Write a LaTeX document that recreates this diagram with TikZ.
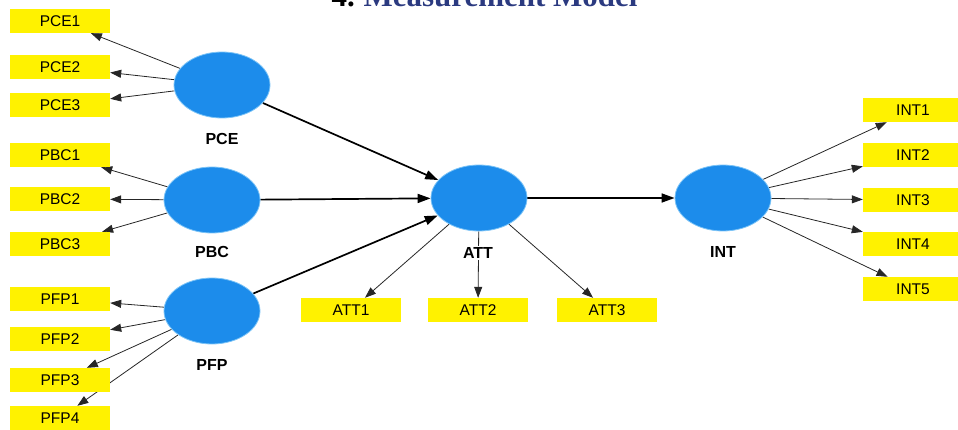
\documentclass[tikz,border=0pt]{standalone}
\usepackage{fontspec}
\setmainfont{Liberation Serif}
\setsansfont{Liberation Sans}
\usetikzlibrary{arrows.meta,shapes.geometric,backgrounds}
\definecolor{lvblue}{HTML}{1C8CEB}
\definecolor{lvrim}{HTML}{7CC4F7}
\definecolor{itemyellow}{HTML}{FFF200}
\definecolor{navy}{HTML}{2B3A80}
\tikzset{
  item/.style={fill=itemyellow,minimum width=100pt,minimum height=24pt,inner sep=0pt,font=\sffamily\fontsize{15.5}{17}\selectfont},
  latent/.style={ellipse,fill=lvblue,draw=lvrim,line width=0.8pt,minimum width=96pt,minimum height=66pt,inner sep=0pt},
  lvname/.style={font=\sffamily\bfseries\fontsize{16}{18}\selectfont,inner sep=1.5pt},
  ind/.style={-{Triangle[length=11pt,width=8pt]},line width=0.8pt,black!85},
  struct/.style={-{Triangle[length=13pt,width=9pt]},line width=1.7pt,black}
}
\begin{document}
\begin{tikzpicture}[x=1pt,y=-1pt]
  \clip (0,0) rectangle (958,430);
  \node[anchor=base west,font=\bfseries\fontsize{31}{33}\selectfont] (num) at (328,7) {4.};
  \node[anchor=base west,font=\bfseries\fontsize{31}{33}\selectfont,text=navy] (title) at (360,7) {Measurement Model};

  \node[latent] (pce) at (222,85) {};
  \node[latent] (pbc) at (212,200) {};
  \node[latent] (pfp) at (212,311) {};
  \node[latent] (att) at (479,198) {};
  \node[latent] (int) at (723,198) {};
  \node[lvname] (pcelab) at (222,139) {PCE};
  \node[lvname] (pbclab) at (212,252) {PBC};
  \node[lvname] (pfplab) at (212,365) {PFP};
  \node[lvname,fill=white] (attlab) at (478,253) {ATT};
  \node[lvname] (intlab) at (723,252) {INT};

  \node[item] (pce1) at (60,21) {PCE1};
  \node[item] (pce2) at (60,67) {PCE2};
  \node[item] (pce3) at (60,105) {PCE3};
  \node[item] (pbc1) at (60,155) {PBC1};
  \node[item] (pbc2) at (60,199) {PBC2};
  \node[item] (pbc3) at (60,244) {PBC3};
  \node[item] (pfp1) at (60,299) {PFP1};
  \node[item] (pfp2) at (60,339) {PFP2};
  \node[item] (pfp3) at (60,380) {PFP3};
  \node[item] (pfp4) at (60,418) {PFP4};
  \node[item] (att1) at (351,310) {ATT1};
  \node[item] (att2) at (478,310) {ATT2};
  \node[item] (att3) at (607,310) {ATT3};
  \node[item] (int1) at (913,110) {INT1};
  \node[item] (int2) at (913,155) {INT2};
  \node[item] (int3) at (913,200) {INT3};
  \node[item] (int4) at (913,244) {INT4};
  \node[item] (int5) at (913,289) {INT5};

  \begin{pgfonlayer}{background}
    \draw[ind] (pce)--(pce1); \draw[ind] (pce)--(pce2); \draw[ind] (pce)--(pce3);
    \draw[ind] (pbc)--(pbc1); \draw[ind] (pbc)--(pbc2); \draw[ind] (pbc)--(pbc3);
    \draw[ind] (pfp)--(pfp1); \draw[ind] (pfp)--(pfp2); \draw[ind] (pfp)--(pfp3); \draw[ind] (pfp)--(pfp4);
    \draw[ind] (att)--(att1); \draw[ind] (att)--(att2); \draw[ind] (att)--(att3);
    \draw[ind] (int)--(int1); \draw[ind] (int)--(int2); \draw[ind] (int)--(int3); \draw[ind] (int)--(int4); \draw[ind] (int)--(int5);
    \draw[struct] (pce)--(att);
    \draw[struct] (pbc)--(att);
    \draw[struct] (pfp)--(att);
    \draw[struct] (att)--(int);
  \end{pgfonlayer}
\end{tikzpicture}
\end{document}
